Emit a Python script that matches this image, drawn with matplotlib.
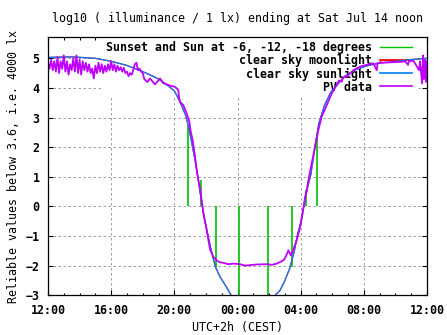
import matplotlib
matplotlib.use("Agg")
import matplotlib.pyplot as plt
from matplotlib.lines import Line2D

# hours since Fri Jul 13 12:00 (CEST)
tick_hours = [0, 4, 8, 12, 16, 20, 24]
tick_labels = ["12:00", "16:00", "20:00", "00:00", "04:00", "08:00", "12:00"]

# sunset, sun at -6, -12, -18 deg (evening) and -18, -12, -6, sunrise (morning)
sun_event_hours = [8.885, 9.67, 10.62, 12.115, 13.95, 15.43, 16.34, 17.055]
sun_event_levels = [2.75, 0.9, -2.04, -3.5, -3.5, -2.04, 0.55, 2.4]

sun_hours = [0, 1.5, 3, 4, 5, 6, 6.5, 7, 7.5, 8, 8.3, 8.5, 8.7, 8.9, 9.1, 9.3,
             9.5, 9.7, 9.9, 10.1, 10.3, 10.6, 10.9, 11.3, 11.6, 11.9, 14.1,
             14.38, 14.7, 15.0, 15.3, 15.6, 15.8, 16.0, 16.2, 16.4, 16.65,
             16.9, 17.15, 17.5, 17.9, 18.3, 18.8, 19.5, 20.2, 21.0, 22.0,
             23.0, 24.0]
sun_values = [5.03, 5.05, 5.0, 4.9, 4.76, 4.55, 4.43, 4.3, 4.12, 3.9, 3.6,
              3.35, 3.1, 2.7, 2.15, 1.6, 0.95, 0.25, -0.4, -0.9, -1.4, -2.04,
              -2.38, -2.72, -3.0, -3.3, -3.3, -3.0, -2.83, -2.5, -2.1, -1.5,
              -0.95, -0.56, 0.0, 0.55, 1.1, 2.0, 2.8, 3.4, 3.85, 4.1, 4.4,
              4.62, 4.75, 4.84, 4.9, 4.96, 5.0]

# sunlight + moonlight (new moon: it only shows late in the morning)
moon_hours = [0, 1.5, 3, 4, 5, 6, 6.5, 7, 7.5, 8, 8.3, 8.5, 8.7, 8.9, 9.1, 9.3,
              9.5, 9.7, 9.9, 10.1, 10.3, 10.6, 10.9, 11.3, 11.6, 11.9, 14.1,
              14.38, 14.7, 15.0, 15.3, 15.6, 15.8, 16.0, 16.2, 16.4, 16.65,
              16.9, 17.15, 17.5, 17.9, 18.3, 18.8, 19.5, 20.2, 21.0, 21.1,
              22.4, 22.45, 23.0, 24.0]
moon_values = [5.03, 5.05, 5.0, 4.9, 4.76, 4.55, 4.43, 4.3, 4.12, 3.9, 3.6,
               3.35, 3.1, 2.7, 2.15, 1.6, 0.95, 0.25, -0.4, -0.9, -1.4, -2.04,
               -2.38, -2.72, -3.0, -3.3, -3.3, -3.0, -2.83, -2.5, -2.1, -1.5,
               -0.95, -0.56, 0.0, 0.55, 1.1, 2.0, 2.8, 3.4, 3.85, 4.1, 4.4,
               4.62, 4.75, 4.84, 4.93, 4.93, 4.92, 4.96, 5.0]

pv_hours = [0.0, 0.1, 0.2, 0.3, 0.4, 0.5, 0.6, 0.7, 0.8, 0.9, 1.0, 1.1, 1.2,
            1.3, 1.4, 1.5, 1.6, 1.7, 1.8, 1.9, 2.0, 2.1, 2.2, 2.3, 2.4, 2.5,
            2.6, 2.7, 2.8, 2.9, 3.0, 3.1, 3.2, 3.3, 3.4, 3.5, 3.6, 3.7, 3.8,
            3.9, 4.0, 4.1, 4.2, 4.3, 4.4, 4.5, 4.6, 4.7, 4.8, 4.9, 5.0, 5.1,
            5.2, 5.3, 5.4, 5.5, 5.6, 5.7, 5.8, 5.9, 6.0, 6.1, 6.2, 6.3, 6.46,
            6.78, 7.09, 7.30, 7.62, 7.85, 8.04, 8.25, 8.30, 8.36, 8.57, 8.78,
            8.95, 9.04, 9.16, 9.25, 9.31, 9.42, 9.52, 9.63, 9.73, 9.84, 10.05,
            10.26, 10.47, 10.68, 10.89, 11.1, 11.4, 11.74, 12.16, 12.48,
            12.79, 13.24, 13.85, 14.19, 14.48, 14.80, 14.95, 15.12, 15.22,
            15.37, 15.54, 15.64, 15.75, 15.92, 16.07, 16.17, 16.28, 16.39,
            16.49, 16.70, 16.91, 17.12, 17.33, 17.65, 17.97, 18.28, 18.43,
            18.60, 18.68, 18.92, 19.34, 19.76, 20.18, 20.60, 20.82, 20.87,
            21.45, 21.85, 22.29, 22.61, 22.80, 22.86, 23.14, 23.50, 23.56,
            23.69, 23.75, 23.81, 23.88, 23.94, 24.0]
pv_values = [4.85, 4.65, 4.95, 4.6, 4.9, 4.55, 5.05, 4.5, 4.9, 4.65, 5.1,
             4.55, 4.9, 4.45, 4.8, 4.6, 5.0, 4.55, 5.1, 4.5, 4.95, 4.45, 4.9,
             4.6, 4.85, 4.55, 4.8, 4.5, 4.65, 4.32, 4.75, 4.5, 4.85, 4.55,
             4.8, 4.5, 4.75, 4.55, 4.8, 4.6, 4.9, 4.6, 4.8, 4.55, 4.75, 4.6,
             4.7, 4.55, 4.68, 4.5, 4.55, 4.4, 4.5, 4.45, 4.6, 4.8, 4.85, 4.6,
             4.65, 4.55, 4.5, 4.3, 4.25, 4.2, 4.32, 4.12, 4.32, 4.16, 4.1,
             4.06, 4.04, 3.93, 3.68, 3.53, 3.42, 3.14, 2.86, 2.52, 2.24, 1.9,
             1.68, 1.23, 0.89, 0.6, 0.21, -0.23, -0.8, -1.45, -1.7, -1.82,
             -1.89, -1.9, -1.95, -1.93, -1.95, -2.0, -1.98, -1.96, -1.95,
             -1.97, -1.93, -1.85, -1.8, -1.62, -1.48, -1.65, -1.45, -1.3,
             -1.14, -0.8, -0.4, -0.06, 0.32, 0.55, 0.89, 1.45, 2.01, 2.58,
             3.03, 3.42, 3.82, 4.1, 4.25, 4.21, 4.35, 4.38, 4.6, 4.72, 4.78,
             4.83, 4.6, 4.84, 4.86, 4.87, 4.88, 4.9, 4.78, 4.9, 4.92, 4.6,
             4.9, 4.15, 5.1, 4.3, 4.95, 4.2, 4.9]

plt.rcParams["font.family"] = ["DejaVu Sans Mono"]
plt.rcParams["font.weight"] = "bold"
plt.rcParams["font.size"] = 8.4

GREEN = "#00c000"
RED = "#ff0000"
BLUE = "#0080ff"
PURPLE = "#c000ff"

fig = plt.figure(figsize=(4.47, 3.35), dpi=100)
ax = fig.add_axes([48 / 447, (335 - 295.3) / 335, 379 / 447, 258 / 335])

ax.vlines(sun_event_hours, 0, sun_event_levels, color=GREEN, lw=1.2, zorder=2)
ax.plot(moon_hours, moon_values, color=RED, lw=0.9, zorder=2.1)
ax.plot(sun_hours, sun_values, color=BLUE, lw=0.9, zorder=2.2)
ax.plot(pv_hours, pv_values, color=PURPLE, lw=1.3, zorder=2.3)

ax.set_xlim(0, 24)
ax.set_ylim(-3, 5.71)
ax.set_xticks(tick_hours)
ax.set_xticklabels(tick_labels)
ax.set_xticks(range(0, 25), minor=True)
ax.set_yticks(range(-3, 6))

ax.tick_params(which="both", direction="in", top=True, right=True, width=0.8, pad=6)
ax.tick_params(which="major", length=3.3)
ax.tick_params(which="minor", length=1.8)
for s in ax.spines.values():
    s.set_linewidth(0.9)

ax.set_axisbelow(True)
ax.grid(True, which="major", color="#a0a0a0", lw=0.72, linestyle=(0, (2.5, 2.5)))

ax.set_title("log10 ( illuminance / 1 lx) ending at Sat Jul 14 noon",
             fontsize=8.4, pad=11)
ax.set_xlabel("UTC+2h (CEST)", labelpad=3)
ax.set_ylabel("Reliable values below 3.6, i.e. 4000 lx", labelpad=4)

handles = [
    Line2D([], [], color=GREEN, lw=1.0),
    Line2D([], [], color=RED, lw=1.2),
    Line2D([], [], color=BLUE, lw=1.2),
    Line2D([], [], color=PURPLE, lw=1.2),
]
labels = ["Sunset and Sun at -6, -12, -18 degrees", "clear sky moonlight",
          "clear sky sunlight", "PV data"]
leg = ax.legend(handles, labels, loc="upper right", bbox_to_anchor=(0.97, 1.0),
                markerfirst=False, alignment="right", frameon=True,
                fancybox=False, edgecolor="none", facecolor="white",
                framealpha=1, handlelength=2.74, handletextpad=0.69,
                labelspacing=0.0, borderpad=0.35, borderaxespad=0)
leg.set_zorder(1.5)

fig.savefig("out.png", dpi=100)
